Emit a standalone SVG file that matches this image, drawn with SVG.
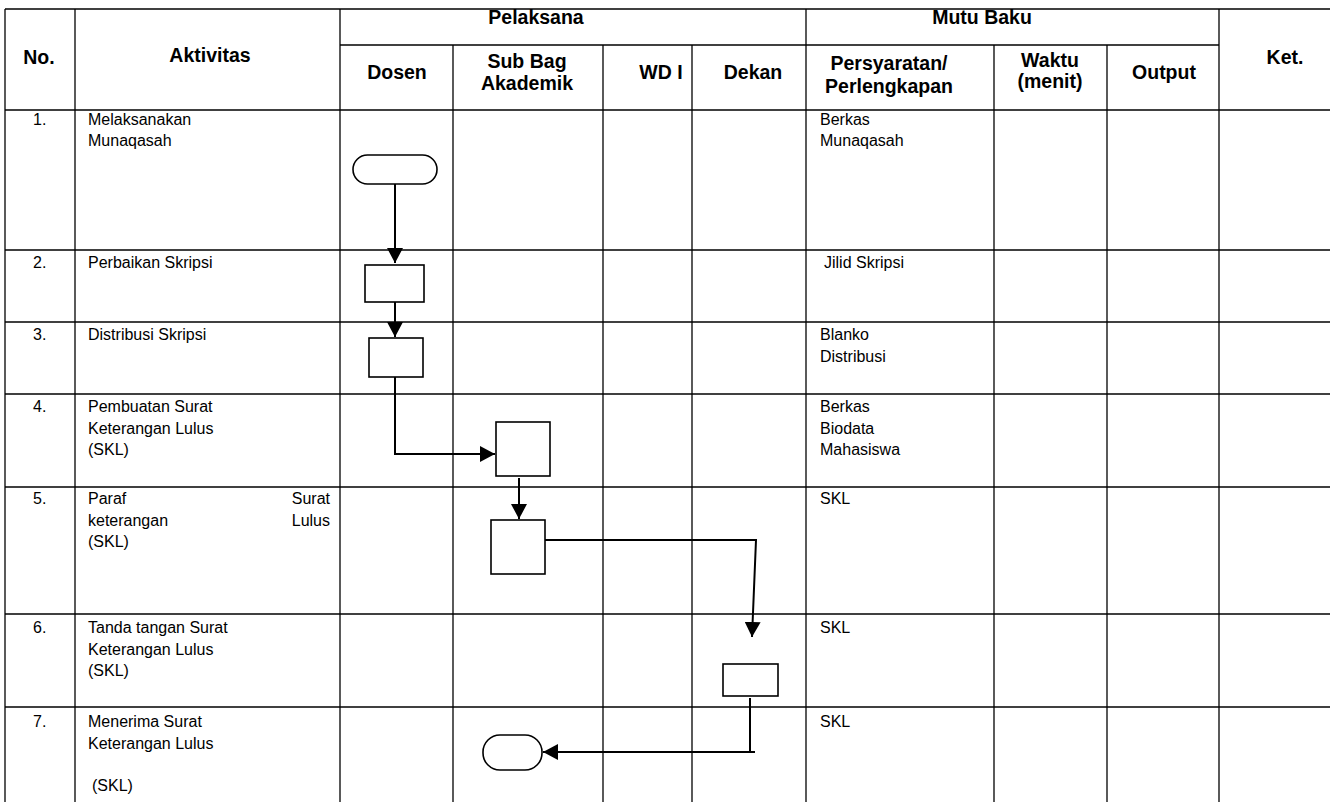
<svg xmlns="http://www.w3.org/2000/svg" width="1330" height="802" viewBox="0 0 1330 802">
<style>
.grid line{stroke:#000;stroke-width:1.3}
.h{font-family:"Liberation Sans",Arial,sans-serif;font-weight:bold;font-size:19.5px;fill:#000;text-anchor:middle}
.t{font-family:"Liberation Sans",Arial,sans-serif;font-size:16px;fill:#000}
.shape{fill:#fff;stroke:#000;stroke-width:1.6}
.conn{fill:none;stroke:#000;stroke-width:2}
</style>
<defs>
<marker id="arr" markerUnits="userSpaceOnUse" markerWidth="16" markerHeight="16" viewBox="0 0 16 16" refX="15" refY="8" orient="auto">
<path d="M0,0 L15,8 L0,16 Z" fill="#000"/>
</marker>
</defs>
<rect width="1330" height="802" fill="#fff"/>
<g class="grid">
<line x1="5" y1="9" x2="1330" y2="9"/>
<line x1="340" y1="45" x2="1219" y2="45"/>
<line x1="5" y1="110" x2="1330" y2="110"/>
<line x1="5" y1="250" x2="1330" y2="250"/>
<line x1="5" y1="322" x2="1330" y2="322"/>
<line x1="5" y1="394" x2="1330" y2="394"/>
<line x1="5" y1="487" x2="1330" y2="487"/>
<line x1="5" y1="614" x2="1330" y2="614"/>
<line x1="5" y1="707" x2="1330" y2="707"/>
<line x1="5" y1="9" x2="5" y2="802"/>
<line x1="75" y1="9" x2="75" y2="802"/>
<line x1="340" y1="9" x2="340" y2="802"/>
<line x1="453" y1="45" x2="453" y2="802"/>
<line x1="603" y1="45" x2="603" y2="802"/>
<line x1="692" y1="45" x2="692" y2="802"/>
<line x1="806" y1="9" x2="806" y2="802"/>
<line x1="994" y1="45" x2="994" y2="802"/>
<line x1="1107" y1="45" x2="1107" y2="802"/>
<line x1="1219" y1="9" x2="1219" y2="802"/>
</g>
<g id="header">
<text class="h" x="39" y="64">No.</text>
<text class="h" x="210" y="62">Aktivitas</text>
<text class="h" x="536" y="24">Pelaksana</text>
<text class="h" x="982" y="24">Mutu Baku</text>
<text class="h" x="1285" y="64">Ket.</text>
<text class="h" x="397" y="79">Dosen</text>
<text class="h" x="527" y="68">Sub Bag</text>
<text class="h" x="527" y="90">Akademik</text>
<text class="h" x="661" y="79">WD I</text>
<text class="h" x="753" y="79">Dekan</text>
<text class="h" x="889" y="70">Persyaratan/</text>
<text class="h" x="889" y="93">Perlengkapan</text>
<text class="h" x="1050" y="67">Waktu</text>
<text class="h" x="1050" y="88">(menit)</text>
<text class="h" x="1164" y="79">Output</text>
</g>
<g id="rows">
<text class="t" x="33" y="125">1.</text>
<text class="t" x="88" y="125">Melaksanakan</text>
<text class="t" x="88" y="146">Munaqasah</text>
<text class="t" x="820" y="125">Berkas</text>
<text class="t" x="820" y="146">Munaqasah</text>
<text class="t" x="33" y="268">2.</text>
<text class="t" x="88" y="268">Perbaikan Skripsi</text>
<text class="t" x="824" y="268">Jilid Skripsi</text>
<text class="t" x="33" y="340">3.</text>
<text class="t" x="88" y="340">Distribusi Skripsi</text>
<text class="t" x="820" y="340">Blanko</text>
<text class="t" x="820" y="362">Distribusi</text>
<text class="t" x="33" y="412">4.</text>
<text class="t" x="88" y="412">Pembuatan Surat</text>
<text class="t" x="88" y="434">Keterangan Lulus</text>
<text class="t" x="88" y="455">(SKL)</text>
<text class="t" x="820" y="412">Berkas</text>
<text class="t" x="820" y="434">Biodata</text>
<text class="t" x="820" y="455">Mahasiswa</text>
<text class="t" x="33" y="504">5.</text>
<text class="t" x="88" y="504">Paraf</text>
<text class="t" x="330" y="504" text-anchor="end">Surat</text>
<text class="t" x="88" y="526">keterangan</text>
<text class="t" x="330" y="526" text-anchor="end">Lulus</text>
<text class="t" x="88" y="547">(SKL)</text>
<text class="t" x="820" y="504">SKL</text>
<text class="t" x="33" y="633">6.</text>
<text class="t" x="88" y="633">Tanda tangan Surat</text>
<text class="t" x="88" y="655">Keterangan Lulus</text>
<text class="t" x="88" y="676">(SKL)</text>
<text class="t" x="820" y="633">SKL</text>
<text class="t" x="33" y="727">7.</text>
<text class="t" x="88" y="727">Menerima Surat</text>
<text class="t" x="88" y="749">Keterangan Lulus</text>
<text class="t" x="92" y="791">(SKL)</text>
<text class="t" x="820" y="727">SKL</text>
</g>
<g id="connectors">
<path class="conn" d="M395,184 V263" marker-end="url(#arr)"/>
<path class="conn" d="M395,302 V337" marker-end="url(#arr)"/>
<path class="conn" d="M395,377 V454 H495" marker-end="url(#arr)"/>
<path class="conn" d="M519,478 V519" marker-end="url(#arr)"/>
<path class="conn" d="M545,540 H756 L752,637" marker-end="url(#arr)"/>
<path class="conn" d="M750,698 V752"/>
<path class="conn" d="M755,752 H543" marker-end="url(#arr)"/>
</g>
<g id="n1"><rect class="shape" x="353" y="155" width="84" height="29" rx="14.5"/></g>
<g id="n2"><rect class="shape" x="365" y="265" width="59" height="37"/></g>
<g id="n3"><rect class="shape" x="369" y="338" width="54" height="39"/></g>
<g id="n4"><rect class="shape" x="496" y="422" width="54" height="54"/></g>
<g id="n5"><rect class="shape" x="491" y="520" width="54" height="54"/></g>
<g id="n6"><rect class="shape" x="723" y="664" width="55" height="32"/></g>
<g id="n7"><rect class="shape" x="483" y="735" width="59" height="35" rx="17"/></g>
</svg>
